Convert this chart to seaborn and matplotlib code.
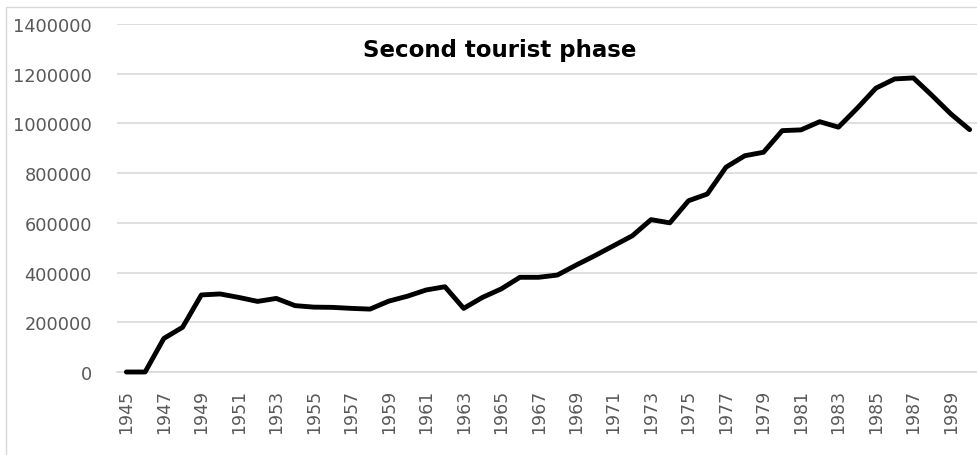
import matplotlib
matplotlib.use('Agg')
from matplotlib import pyplot as plt
from matplotlib.patches import Rectangle
import pandas as pd
import seaborn as sns

years = list(range(1945, 1991))
visitors = [0, 0, 135000, 180000, 310000, 314000, 300000, 284000, 296000, 267000,
            261000, 260000, 256000, 253000, 285000, 305000, 330000, 343000, 256000, 300000,
            334000, 381000, 381000, 390000, 430000, 468000, 508000, 548000, 613000, 600000,
            689000, 716000, 824000, 870000, 884000, 971000, 974000, 1007000, 985000, 1061000,
            1142000, 1179000, 1183000, 1112000, 1038000, 975000]
tick_years = years[::2]
yticks = [0, 200000, 400000, 600000, 800000, 1000000, 1200000, 1400000]
title = 'Second tourist phase'

df = pd.DataFrame({'year': years, 'visitors': visitors})

sns.set_style('white')
plt.rcParams['font.family'] = ['DejaVu Sans']

fig = plt.figure(figsize=(9.77, 4.56), dpi=100)
ax = fig.add_axes([117 / 977, 1 - 373 / 456, 862 / 977, 348 / 456])

sns.lineplot(data=df, x='year', y='visitors', color='black', linewidth=3.5,
             ax=ax, clip_on=False, zorder=5)

ax.set_xlim(1944.5, 1990.5)
ax.set_ylim(0, 1400000)
ax.set_yticks(yticks)
ax.set_yticklabels([str(v) for v in yticks])
ax.set_xticks(tick_years)
ax.set_xticklabels([str(y) for y in tick_years], rotation=90)
ax.tick_params(axis='y', length=0, pad=18, labelsize=12.8, labelcolor='#595959')
ax.tick_params(axis='x', length=0, pad=12, labelsize=12.5, labelcolor='#595959')
ax.grid(axis='y', color='#d9d9d9', linewidth=1.2)
ax.set_axisbelow(True)
for s in ['top', 'right', 'left']:
    ax.spines[s].set_visible(False)
ax.spines['bottom'].set_color('#d9d9d9')
ax.spines['bottom'].set_linewidth(1.2)
ax.set_xlabel('')
ax.set_ylabel('')

fig.text(500 / 977, 1 - 57 / 456, title, ha='center', va='baseline',
         fontsize=16.5, fontweight='bold', color='black')

fig.patches.append(Rectangle((5.5 / 977, -0.2), 1.5, 1.2 - 7.5 / 456,
                             transform=fig.transFigure, fill=False,
                             edgecolor='#d9d9d9', linewidth=1))

fig.savefig('out.png', dpi=100)
